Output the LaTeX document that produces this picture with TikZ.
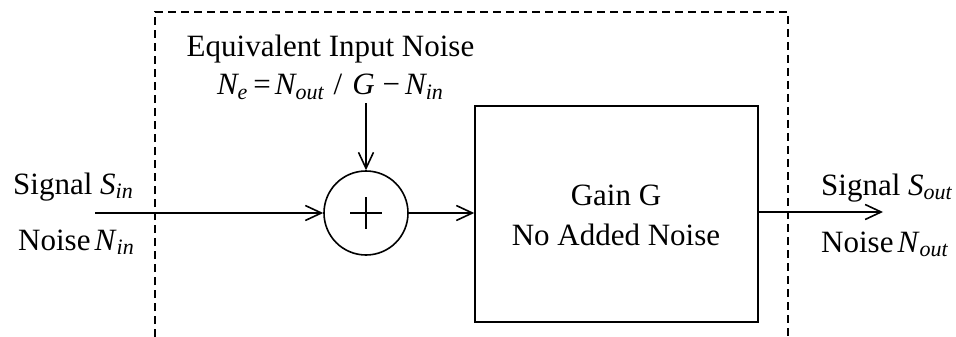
\documentclass[tikz,border=0pt]{standalone}
\usepackage{fontspec}
\setmainfont{Liberation Serif}
\usetikzlibrary{arrows.meta,calc}
\newcommand\mysb[1]{\raisebox{-0.3ex}{\fontsize{22}{22}\selectfont\itshape #1}}
\begin{document}
\begin{tikzpicture}[x=1pt,y=-1pt,
  lbl/.style={font=\fontsize{31}{35}\selectfont, inner sep=0pt},
  wire/.style={line width=1.6pt, -{Straight Barb[length=16pt,width=15pt,line width=1.6pt]}},
  frame/.style={line width=1.4pt, dash pattern=on 8pt off 5pt}]
\useasboundingbox (0,0) rectangle (956,337);
\fill[white] (0,0) rectangle (956,337);
% dashed enclosure
\draw[frame] (155,337) -- (155,12) -- (788,12) -- (788,337);
% summing junction
\node[draw, circle, line width=1.6pt, minimum size=84pt, inner sep=0pt] (sum) at (366,213) {};
\draw[line width=1.6pt] ($(sum.center)+(-16,0)$) -- ($(sum.center)+(16,0)$)
  ($(sum.center)+(0,-16)$) -- ($(sum.center)+(0,16)$);
% gain block
\node[draw, rectangle, line width=1.6pt, minimum width=283pt, minimum height=216pt, inner sep=0pt] (gain) at (616.5,214) {};
\node[lbl, anchor=base] (gtxt1) at (616,205) {Gain G};
\node[lbl, anchor=base] (gtxt2) at (616,245) {No Added Noise};
% top labels
\node[lbl, anchor=base] (eqn) at (330.5,57) {Equivalent Input Noise};
\node[lbl, anchor=base] (form) at (330,95) {\itshape N\mysb{e}\upshape\hspace{6pt}=\hspace{4pt}\itshape N\mysb{out}\upshape\hspace{10pt}/\hspace{10pt}\itshape G\upshape\hspace{8pt}−\hspace{5pt}\itshape N\mysb{in}};
\coordinate (formb) at (366,103);
% input labels
\node[lbl, anchor=base west] (sin) at (13,194) {Signal \textit{S}\mysb{in}};
\node[lbl, anchor=base west] (nin) at (18,250) {Noise\hspace{4pt}\textit{N}\mysb{in}};
% output labels
\node[lbl, anchor=base west] (sout) at (821,195) {Signal \textit{S}\mysb{out}};
\node[lbl, anchor=base west] (nout) at (821,252) {Noise\hspace{4pt}\textit{N}\mysb{out}};
% connectors
\coordinate (inp) at (95,213);
\coordinate (outp) at (883,212);
\draw[wire] (inp) -- (sum.west);
\draw[wire] (formb) -- (sum.north);
\draw[wire] (sum.east) -- (sum.east -| gain.west);
\draw[wire] (gain.east |- outp) -- (outp);
\end{tikzpicture}
\end{document}
